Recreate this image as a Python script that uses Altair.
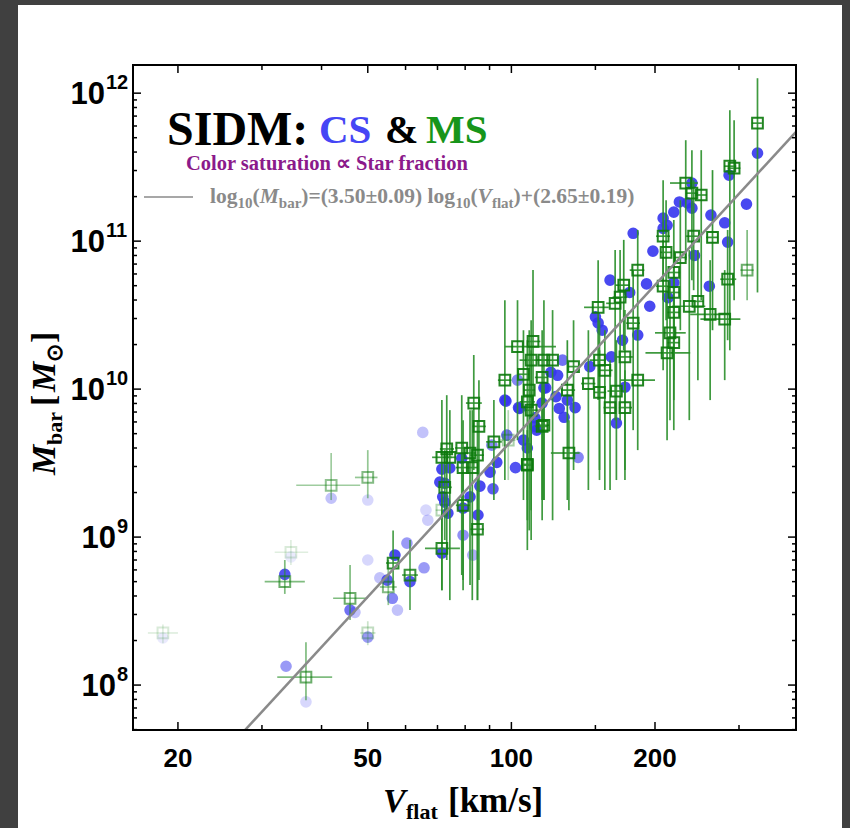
import altair as alt
import pandas as pd

# ---------------- data ----------------
# MS points (green open squares with error bars); masses in 1e9 Msun
ms_v   = [18.6, 41.9, 50.0, 34.5, 33.5, 45.9, 50.0, 37.1, 56.5, 61.3, 55.2, 71.5, 74.3, 73.2, 79.2, 82.8, 78.7, 81.9, 84.9, 83.4,
          85.5, 72.5, 79.2, 84.9, 71.5, 96.9, 109, 116, 108, 98.5, 111, 103, 117, 122, 135, 110, 153, 157, 173, 106,
          116, 131, 145, 184, 166, 108, 110, 161, 173, 153, 117, 132, 108, 152, 165, 180, 184, 208, 211, 219,
          226, 208, 219, 219, 215, 219, 212, 236, 246, 261, 280, 284, 312, 264, 241, 232, 239, 250, 287, 293,
          328, 172, 71.5, 91.9, 169]
ms_m   = [0.225, 2.24, 2.53, 0.79, 0.50, 0.386, 0.225, 0.113, 0.668, 0.554, 0.46, 3.46, 3.46, 3.94, 2.95, 2.95, 4.0, 3.7, 3.58, 8.05,
          5.6, 2.17, 1.64, 1.13, 0.84, 11.5, 9.85, 5.6, 3.06, 4.52, 21.0, 19.4, 15.7, 15.7, 14.2, 15.7, 15.7, 13.4, 16.5, 12.6,
          12.0, 9.85, 10.9, 11.5, 9.7, 8.2, 7.2, 7.5, 7.5, 9.5, 5.7, 3.7, 3.1, 35.7, 38.0, 27.9, 63.7, 108, 84, 61.4,
          77.5, 49.6, 45, 33, 24, 20.6, 17.6, 36.3, 39.2, 32, 29.7, 55.3, 63.7, 106, 108, 247, 211, 205, 321, 311,
          627, 50.4, 1.52, 4.4, 41.8]
ms_vlo = [17.3, 35.4, 47.0, 31.9, 30.4, 42.3, 48.2, 32.3, 54.6, 59.0, 53.0, 68.2, 72.2, 70.8, 76.5, 80.3, 76.2, 79.5, 81.9, 80.3,
          82.7, 70.1, 76.5, 81.9, 65.9, 93.7, 106, 112, 105, 94.6, 108, 96.9, 113, 118, 131, 104, 146, 152, 166, 103,
          112, 127, 140, 169, 159, 104, 107, 156, 168, 149, 113, 121, 105, 142, 158, 174, 177, 201, 205, 211,
          219, 201, 212, 212, 200, 212, 191, 217, 240, 237, 249, 274, 302, 256, 232, 215, 232, 243, 279, 284,
          319, 165, 69.4, 88.5, 163]
ms_vhi = [20.0, 48.2, 52.4, 37.5, 36.9, 50.0, 51.9, 42.1, 58.4, 63.7, 57.5, 75.0, 76.5, 75.8, 81.9, 85.1, 81.5, 84.3, 87.6, 86.7,
          88.4, 75.0, 81.9, 87.6, 78.0, 100, 112, 119, 111, 102, 115, 124, 120, 125, 138, 118, 158, 163, 180, 109,
          119, 136, 150, 200, 174, 112, 114, 166, 179, 158, 120, 139, 111, 160, 169, 186, 190, 215, 217, 226,
          233, 215, 225, 225, 232, 225, 237, 255, 253, 287, 302, 296, 322, 271, 249, 246, 246, 257, 296, 302,
          335, 177, 73.6, 95.5, 175]
ms_mlo = [0.192, 1.78, 1.83, 0.647, 0.413, 0.275, 0.186, 0.079, 0.438, 0.321, 0.347, 0.438, 0.375, 0.70, 0.438, 0.375, 0.554, 0.474, 0.375, 2.84,
          0.512, 0.955, 0.512, 0.375, 0.438, 2.43, 1.11, 1.30, 0.817, 2.43, 6.17, 4.52, 1.78, 1.30, 2.84, 1.52, 2.43, 2.08, 2.84, 1.78,
          1.78, 1.78, 2.08, 3.87, 2.43, 1.30, 0.955, 2.08, 2.43, 2.84, 1.78, 1.52, 1.78, 8.43, 6.17, 5.28, 25.0, 39.9, 29.2, 21.4,
          25.0, 13.4, 11.5, 8.43, 6.17, 5.28, 4.52, 6.17, 11.5, 8.43, 11.5, 21.4, 39.9, 25.0, 46.6, 74.4, 54.5, 39.9, 18.3, 39.9,
          45.0, 18.3, 1.11, 1.78, 6.17]
ms_mhi = [0.257, 3.7, 3.87, 0.955, 0.70, 0.647, 0.27, 0.195, 1.11, 0.955, 0.70, 8.43, 7.21, 9.1, 6.17, 7.21, 9.1, 7.21, 6.17, 17.0,
          11.5, 3.87, 2.84, 2.08, 1.52, 39.9, 25.0, 9.85, 5.28, 7.21, 63.7, 39.9, 39.9, 34.2, 29.2, 29.2, 29.2, 25.0, 34.2, 25.0,
          25.0, 21.4, 25.0, 25.0, 21.4, 21.4, 18.3, 15.7, 13.4, 18.3, 9.85, 6.17, 4.52, 74.4, 87, 63.7, 119, 258, 189, 139,
          189, 102, 87, 74.4, 54.5, 39.9, 39.9, 87, 87, 74.4, 63.7, 119, 119, 302, 258, 481, 412, 412, 767, 657,
          1262, 102, 1.92, 8.43, 87]
ms_sat = [0.15, 0.45, 0.5, 0.15, 0.6, 0.6, 0.25, 0.6, 0.85, 0.8, 0.5, 0.9, 0.9, 0.9, 0.9, 0.9, 0.9, 0.9, 0.9, 0.9,
          0.9, 0.85, 0.85, 0.85, 0.85, 0.9, 0.9, 0.9, 0.9, 0.35, 0.9, 0.9, 0.9, 0.9, 0.9, 0.9, 0.9, 0.9, 0.9, 0.9,
          0.9, 0.95, 0.9, 0.9, 0.9, 0.9, 0.9, 0.9, 0.9, 0.9, 0.9, 0.9, 0.9, 0.9, 0.9, 0.9, 0.9, 0.9, 0.9, 0.9,
          0.9, 0.9, 0.9, 0.9, 0.9, 0.9, 0.9, 0.9, 0.9, 0.9, 0.9, 0.9, 0.6, 0.95, 0.9, 0.9, 0.9, 0.9, 0.9, 0.9,
          0.9, 0.95, 0.3, 0.9, 0.9]

# CS points (blue filled circles); masses in 1e9 Msun
cs_v   = [18.6, 41.9, 50.0, 34.5, 33.5, 45.9, 50.0, 33.7, 37.1, 50.0, 65.2, 66.2, 66.8, 57.0, 60.4, 54.9, 56.3, 57.7, 53.0, 47.0,
          61.3, 65.6, 71.5, 74.3, 78.7, 70.8, 72.5, 71.8, 72.5, 81.9, 79.2, 73.6, 85.1, 71.5, 79.2, 83.0, 90.2, 85.9, 91.5, 93.2,
          91.0, 97.4, 104, 116, 117, 112, 106, 108, 102, 97.8, 128, 121, 125, 103, 118, 173, 96.9, 103.5, 124, 126,
          131, 136, 129, 166, 112, 113, 138, 146, 162, 150, 152, 155, 171, 184, 161, 192, 213, 219, 260, 198,
          242, 180, 284, 262, 280, 208, 212, 208, 219, 225, 234, 239, 239, 286, 311, 328, 195, 177]
cs_m   = [0.208, 1.83, 1.78, 0.735, 0.56, 0.321, 0.211, 0.134, 0.077, 0.70, 5.1, 1.52, 1.30, 0.756, 0.91, 0.512, 0.386, 0.321, 0.53, 0.31,
          0.50, 0.62, 2.88, 2.93, 3.41, 2.35, 2.31, 1.87, 1.72, 1.87, 1.57, 1.45, 1.41, 0.78, 1.03, 0.756, 2.75, 2.21, 2.12, 3.2,
          4.18, 8.3, 7.4, 8.05, 10.2, 5.6, 4.52, 4.0, 2.95, 4.89, 15.7, 13.0, 12.4, 11.5, 10.2, 10.3, 8.43, 7.5, 8.9, 7.4,
          8.43, 7.5, 6.45, 5.9, 6.4, 5.28, 3.46, 14.2, 16.5, 30.8, 28.0, 25.0, 21.4, 23.2, 54.5, 51.4, 41.5, 52.4, 49.6, 85.6,
          80.0, 113, 98.5, 150, 133, 143, 128, 122, 157, 184, 181, 167, 247, 279, 178, 393, 36.3, 45.0]
cs_sat = [0.1, 0.3, 0.2, 0.1, 0.85, 0.7, 0.5, 0.5, 0.2, 0.2, 0.3, 0.2, 0.25, 0.9, 0.5, 0.8, 0.6, 0.3, 0.3, 0.3,
          0.85, 0.5, 0.9, 0.9, 0.9, 0.9, 0.9, 0.9, 0.9, 0.9, 0.9, 0.9, 0.9, 0.9, 0.55, 0.4, 0.9, 0.9, 0.8, 0.9,
          0.6, 0.9, 0.9, 0.9, 0.9, 0.9, 0.9, 0.9, 0.85, 0.7, 0.7, 0.9, 0.9, 0.6, 0.9, 0.9, 0.9, 0.9, 0.9, 0.9,
          0.9, 0.9, 0.9, 0.9, 0.9, 0.9, 0.6, 0.9, 0.9, 0.9, 0.9, 0.9, 0.9, 0.9, 0.9, 0.9, 0.9, 0.9, 0.9, 0.9,
          0.9, 0.9, 0.9, 0.9, 0.9, 0.9, 0.9, 0.9, 0.9, 0.9, 0.9, 0.9, 0.9, 0.9, 0.9, 0.9, 0.9, 0.9]

# fit: log10(Mbar) = slope*log10(Vflat) + intercept
fit_slope, fit_intercept = 3.50, 2.65
fit_v = [16.1, 395]

x_major = [20, 50, 100, 200]
x_minor = [30, 40, 60, 70, 80, 90, 150, 300]
y_exp = [8, 9, 10, 11, 12]
y_minor_k = [2, 3, 4, 5, 6, 7, 8, 9]

# ---------------- tables ----------------
ms = pd.DataFrame(dict(v=ms_v, m=[a * 1e9 for a in ms_m], vlo=ms_vlo, vhi=ms_vhi,
                       mlo=[a * 1e9 for a in ms_mlo], mhi=[a * 1e9 for a in ms_mhi], sat=ms_sat))
cs = pd.DataFrame(dict(v=cs_v, m=[a * 1e9 for a in cs_m], sat=cs_sat))
fit = pd.DataFrame(dict(v=fit_v))
xmaj = pd.DataFrame(dict(v=x_major))
xmin = pd.DataFrame(dict(v=x_minor))
ymaj = pd.DataFrame(dict(e=y_exp, m=[10.0 ** e for e in y_exp]))
ymin = pd.DataFrame(dict(m=[k * 10.0 ** e for e in [7, 8, 9, 10, 11] for k in y_minor_k]))
one = pd.DataFrame(dict(k=[0]))

W, H = 663, 665
YMIN, YMAX = 4.97e7, 1.55e12
SERIF = "Liberation Serif"
SANS = "Liberation Sans"
xs = alt.Scale(type="log", domain=[16.1, 395], nice=False)
ys = alt.Scale(type="log", domain=[YMIN, YMAX], nice=False)


def X(f):
    return alt.X(f"{f}:Q", scale=xs, axis=None, title=None)


def Y(f):
    return alt.Y(f"{f}:Q", scale=ys, axis=None, title=None)


OP = alt.Opacity("sat:Q", scale=None, legend=None)

page = alt.Chart(one).mark_rect(color="white").encode(
    x=alt.value(-115), x2=alt.value(709), y=alt.value(-60), y2=alt.value(768))

cs_pts = alt.Chart(cs).mark_circle(size=135, color="#3535ee", clip=True).encode(
    x=X("v"), y=Y("m"), opacity=OP)

ms_ybar = alt.Chart(ms).mark_rule(color="#2a8f2a", strokeWidth=1.7, clip=True).encode(
    x=X("v"), y=Y("mlo"), y2=alt.Y2("mhi"), opacity=OP)
ms_xbar = alt.Chart(ms).mark_rule(color="#2a8f2a", strokeWidth=1.7, clip=True).encode(
    x=X("vlo"), x2=alt.X2("vhi"), y=Y("m"), opacity=OP)
ms_pts = alt.Chart(ms).mark_point(shape="square", filled=False, size=115, strokeWidth=2.0,
                                  color="#0c7a0c", clip=True).encode(x=X("v"), y=Y("m"), opacity=OP)

fit_line = alt.Chart(fit).transform_calculate(
    m=f"pow(10, {fit_slope} * log(datum.v) / LN10 + {fit_intercept})"
).mark_line(color="#8a8a8a", strokeWidth=2.5, clip=True).encode(x=X("v"), y=Y("m"))


def xticks(df, ln):
    b = alt.Chart(df).mark_rule(color="black", strokeWidth=1.5).encode(
        x=X("v"), y=alt.value(H), y2=alt.value(H - ln))
    t = alt.Chart(df).mark_rule(color="black", strokeWidth=1.5).encode(
        x=X("v"), y=alt.value(0), y2=alt.value(ln))
    return [b, t]


def yticks(df, ln):
    flt = f"datum.m > {YMIN} && datum.m < {YMAX}"
    l = alt.Chart(df).transform_filter(flt).mark_rule(
        color="black", strokeWidth=1.5).encode(y=Y("m"), x=alt.value(0), x2=alt.value(ln))
    r = alt.Chart(df).transform_filter(flt).mark_rule(
        color="black", strokeWidth=1.5).encode(y=Y("m"), x=alt.value(W), x2=alt.value(W - ln))
    return [l, r]


frame = alt.Chart(one).mark_rect(fillOpacity=0, stroke="black", strokeWidth=2).encode(
    x=alt.value(0), x2=alt.value(W), y=alt.value(0), y2=alt.value(H))

xlab = alt.Chart(xmaj).mark_text(font=SANS, fontWeight="bold", fontSize=26, align="center",
                                 baseline="alphabetic", color="black").encode(
    x=X("v"), y=alt.value(H + 37), text=alt.Text("v:Q", format="d"))

ybase2 = alt.Chart(ymaj).transform_filter("datum.e >= 10").mark_text(
    text="10", font=SANS, fontWeight="bold", fontSize=31, align="right", baseline="middle", dy=2,
    color="black").encode(x=alt.value(-28), y=Y("m"))
ybase1 = alt.Chart(ymaj).transform_filter("datum.e < 10").mark_text(
    text="10", font=SANS, fontWeight="bold", fontSize=31, align="right", baseline="middle", dy=2,
    color="black").encode(x=alt.value(-17), y=Y("m"))
yexp2 = alt.Chart(ymaj).transform_filter("datum.e >= 10").mark_text(
    font=SANS, fontWeight="bold", fontSize=20, align="left", baseline="middle", dy=-10,
    color="black").encode(x=alt.value(-27), y=Y("m"), text=alt.Text("e:Q", format="d"))
yexp1 = alt.Chart(ymaj).transform_filter("datum.e < 10").mark_text(
    font=SANS, fontWeight="bold", fontSize=20, align="left", baseline="middle", dy=-10,
    color="black").encode(x=alt.value(-16), y=Y("m"), text=alt.Text("e:Q", format="d"))


def txt(s, x, y, size, color="black", style="normal", angle=0, font=SERIF):
    return alt.Chart(one).mark_text(text=s, font=font, fontSize=size, fontWeight="bold",
                                    fontStyle=style, color=color, align="left",
                                    baseline="alphabetic", angle=angle).encode(
        x=alt.value(x), y=alt.value(y))


LG = "#8a8a8a"
texts = [
    txt("SIDM:", 34, 80, 48),
    txt("CS", 186, 78, 41, color="#4646f5"),
    txt("&", 252, 78, 40),
    txt("MS", 293, 78, 41, color="#17951a"),
    txt("Color saturation \u221d Star fraction", 53, 105, 20.5, color="#8b1a8b"),
    txt("log", 77, 138, 21.5, color=LG),
    txt("10", 104.5, 143, 15, color=LG),
    txt("(", 119.5, 138, 21.5, color=LG),
    txt("M", 126.7, 138, 21.5, color=LG, style="italic"),
    txt("bar", 145.8, 143, 15, color=LG),
    txt(")=(3.50\u00b10.09) log", 168.3, 138, 21.5, color=LG),
    txt("10", 322.4, 143, 15, color=LG),
    txt("(", 337.4, 138, 21.5, color=LG),
    txt("V", 344.6, 138, 21.5, color=LG, style="italic"),
    txt("flat", 358.9, 143, 15, color=LG),
    txt(")+(2.65\u00b10.19)", 380.6, 138, 21.5, color=LG),
    # x title
    txt("V", 250, 747, 34, style="italic"),
    txt("flat", 273, 754, 22),
    txt("[km/s]", 315, 747, 35),
    # y title (rotated)
    txt("M", -78, 410, 34, style="italic", angle=270),
    txt("bar", -71, 380, 22, angle=270),
    txt("[", -78, 341, 34, angle=270),
    txt("M", -78, 327, 34, style="italic", angle=270),
    txt("\u2299", -71, 297, 22, angle=270),
    txt("]", -78, 278, 34, angle=270),
]

legend_line = alt.Chart(one).mark_rule(color="#8a8a8a", strokeWidth=1.5).encode(
    x=alt.value(11), x2=alt.value(60), y=alt.value(132))

layers = [page, cs_pts, ms_ybar, ms_xbar, ms_pts, fit_line]
layers += xticks(xmaj, 8) + xticks(xmin, 5) + yticks(ymaj, 8) + yticks(ymin, 4)
layers += [frame, xlab, ybase2, ybase1, yexp2, yexp1, legend_line] + texts

chart = alt.layer(*layers).properties(
    width=W, height=H,
    padding={"left": 133, "top": 65, "right": 54, "bottom": 98},
    autosize=alt.AutoSizeParams(type="none"),
    background="#404040",
).configure_view(stroke=None)

chart.save("out.html", embed_options={"renderer": "svg", "actions": False})
